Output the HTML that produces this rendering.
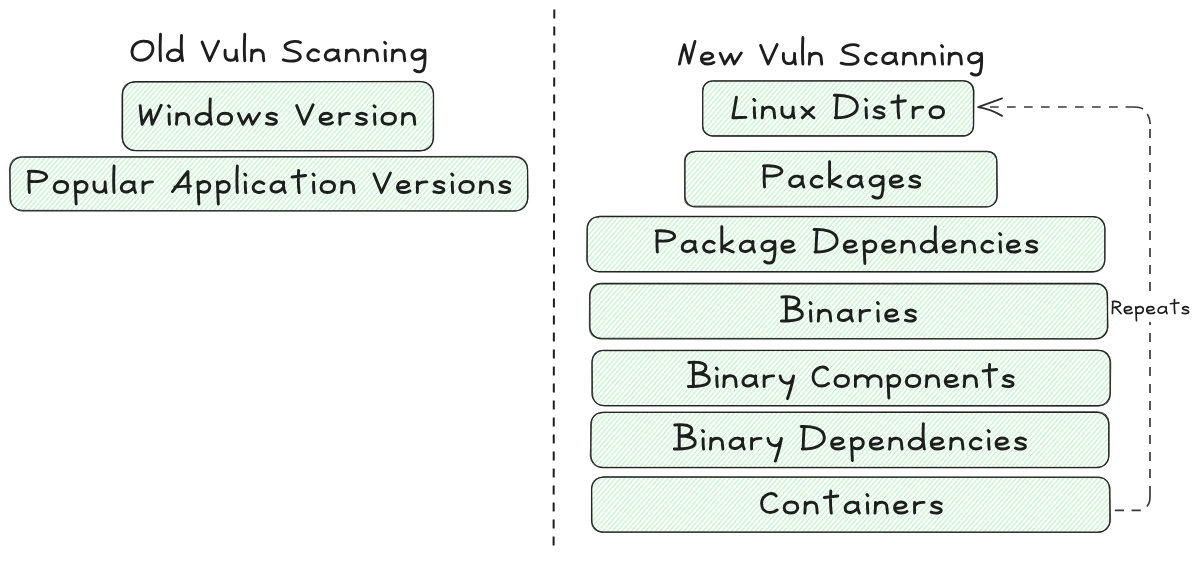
<!DOCTYPE html>
<html><head><meta charset="utf-8">
<style>
html,body{margin:0;padding:0;background:#fff;width:1200px;height:561px;overflow:hidden}
svg{display:block}
text{font-family:"Liberation Sans",sans-serif;fill:#1e1e1e}
</style></head><body>
<svg width="1200" height="561" viewBox="0 0 1200 561">
<defs>
<pattern id="h1" width="3.6" height="20" patternUnits="userSpaceOnUse" patternTransform="rotate(41)">
<rect x="0" y="0" width="1.25" height="20" fill="#c2f3c9"/>
</pattern>
<pattern id="h2" width="3.6" height="20" patternUnits="userSpaceOnUse" patternTransform="rotate(41)">
<rect x="0" y="0" width="1.25" height="20" fill="#c2f3c9"/>
</pattern>
</defs>

<rect x="122.50" y="81.70" width="311.00" height="68.90" rx="13" fill="url(#h1)" stroke="#262626" stroke-width="1.3"/>
<path d="M135.3 82.2 L419.9 81.3 Q433.9 81.9 433.5 94.9 L433.1 137.2 Q433.8 150.4 420.2 151.1 L136.1 150.6 Q122.2 150.4 121.9 137.0 L122.0 94.5 Q122.2 81.3 135.2 82.4" fill="none" stroke="#262626" stroke-width="1.0" opacity="0.75"/>
<rect x="10.00" y="156.80" width="517.60" height="54.10" rx="13" fill="url(#h1)" stroke="#262626" stroke-width="1.3"/>
<path d="M23.4 157.2 L514.1 156.3 Q528.2 156.5 527.5 170.2 L528.1 197.5 Q527.5 210.6 514.8 211.2 L22.9 210.3 Q10.6 210.3 10.6 197.5 L9.4 169.3 Q9.9 156.2 23.1 156.9" fill="none" stroke="#262626" stroke-width="1.0" opacity="0.75"/>
<rect x="702.75" y="80.90" width="270.75" height="55.10" rx="10" fill="url(#h1)" stroke="#262626" stroke-width="1.3"/>
<path d="M712.8 81.2 L962.9 80.6 Q973.4 81.0 974.0 90.3 L973.6 125.6 Q973.3 135.9 963.9 135.6 L713.4 135.8 Q702.1 135.8 702.5 125.6 L702.5 91.2 Q703.1 81.6 712.3 81.1" fill="none" stroke="#262626" stroke-width="1.0" opacity="0.75"/>
<rect x="685.00" y="151.30" width="311.90" height="55.50" rx="10" fill="url(#h1)" stroke="#262626" stroke-width="1.3"/>
<path d="M695.3 151.4 L986.8 151.8 Q997.2 151.0 996.6 160.6 L997.5 196.2 Q996.3 206.4 986.2 206.8 L694.4 206.1 Q684.3 207.2 684.5 196.9 L684.4 161.0 Q684.7 151.0 695.2 152.0" fill="none" stroke="#262626" stroke-width="1.0" opacity="0.75"/>
<rect x="587.10" y="216.70" width="517.80" height="54.90" rx="12" fill="url(#h1)" stroke="#262626" stroke-width="1.3"/>
<path d="M599.0 216.1 L1093.0 216.7 Q1105.3 216.6 1104.9 229.0 L1104.6 259.9 Q1104.9 271.9 1092.5 272.3 L599.0 272.0 Q587.5 271.0 586.7 259.3 L587.4 228.0 Q587.8 216.5 599.0 217.2" fill="none" stroke="#262626" stroke-width="1.0" opacity="0.75"/>
<rect x="589.90" y="283.50" width="517.60" height="55.30" rx="12" fill="url(#h1)" stroke="#262626" stroke-width="1.3"/>
<path d="M601.3 283.9 L1095.7 284.0 Q1107.8 283.0 1107.1 296.1 L1108.0 327.3 Q1106.8 339.3 1094.9 338.8 L601.9 338.2 Q589.2 339.2 589.3 326.8 L589.5 296.0 Q590.4 283.2 601.3 283.5" fill="none" stroke="#262626" stroke-width="1.0" opacity="0.75"/>
<rect x="592.00" y="350.30" width="518.10" height="55.30" rx="12" fill="url(#h1)" stroke="#262626" stroke-width="1.3"/>
<path d="M604.0 350.8 L1097.9 350.2 Q1110.0 349.6 1110.8 362.7 L1110.4 393.3 Q1110.7 406.0 1097.8 406.2 L604.6 405.8 Q592.1 405.5 592.6 392.9 L592.1 362.8 Q591.8 349.6 604.2 350.3" fill="none" stroke="#262626" stroke-width="1.0" opacity="0.75"/>
<rect x="590.90" y="412.30" width="517.85" height="55.30" rx="12" fill="url(#h1)" stroke="#262626" stroke-width="1.3"/>
<path d="M602.2 412.3 L1097.0 411.7 Q1109.3 411.8 1109.1 424.6 L1109.0 455.0 Q1109.1 467.5 1096.2 467.3 L603.0 467.3 Q591.3 467.4 590.2 455.9 L591.3 424.9 Q591.0 412.6 603.1 412.7" fill="none" stroke="#262626" stroke-width="1.0" opacity="0.75"/>
<rect x="591.60" y="477.10" width="518.30" height="55.10" rx="12" fill="url(#h1)" stroke="#262626" stroke-width="1.3"/>
<path d="M603.1 476.7 L1098.4 477.6 Q1109.3 477.5 1109.3 489.2 L1110.6 520.3 Q1109.6 531.6 1097.9 532.5 L603.6 532.1 Q590.9 532.2 591.9 520.7 L591.6 488.5 Q591.5 477.2 603.9 477.0" fill="none" stroke="#262626" stroke-width="1.0" opacity="0.75"/>
<line x1="554.3" y1="9.4" x2="553.6" y2="545.7" stroke="#1e1e1e" stroke-width="2" stroke-dasharray="9 8"/>
<g fill="none" stroke="#3a3a3a" stroke-width="1.7"><path d="M1114.8 510.3 H1142.9" stroke-dasharray="9.2 7.6"/><path d="M1146.8 506.5 Q1150 503.5 1150 497 V486"/><path d="M1150 478 V128" stroke-dasharray="9 8"/><path d="M979 107 H1117.8" stroke-dasharray="8.7 8.3" stroke-dashoffset="-11"/><path d="M1125.5 107 H1134 Q1140 107 1143 109"/><path d="M1147.3 114 Q1150 118 1150.2 124"/></g>
<path d="M1002.1 98.4 L978.1 107.2 Q990.1 108.9 1002.1 115.9" fill="none" stroke="#2e2e2e" stroke-width="1.8" stroke-linecap="round" stroke-linejoin="round"/>
<rect x="1109.2" y="291" width="84" height="31" fill="#fff"/>
<path transform="translate(130.00 60.70)" d="M 14.45 -19.5 C 6.45 -19.96 1.95 -14.39 1.95 -8.82 C 1.95 -3.71 5.45 -0.46 10.45 -0.46 C 17.45 -0.46 22.95 -6.04 22.95 -12.54 C 22.95 -17.18 19.45 -19.5 14.45 -19.5 M 30.51 -26.5 C 30.01 -16.17 30.01 -6.52 30.51 0 M 51.06 -7.74 C 49.06 -10.59 45.06 -11.57 41.56 -10.19 C 37.56 -8.56 36.56 -4.89 38.06 -2.44 C 39.56 0 44.06 0.5 47.06 -0.81 C 49.56 -2.04 51.06 -4.07 51.06 -5.7 M 51.56 -25.35 C 51.06 -15.02 51.06 -6.52 52.56 0 M 72.12 -18.61 L 79.62 0 L 88.62 -19.5 M 95.18 -10.59 C 94.68 -4.89 95.18 -0.81 100.18 -0.41 C 104.68 0 106.18 -3.26 106.18 -6.52 M 106.18 -10.59 C 106.18 -6.52 106.18 -3.26 107.18 0 M 114.74 -26.5 C 114.24 -16.17 114.24 -6.52 114.74 0 M 121.79 -10.59 C 121.79 -6.52 121.79 -3.26 121.29 0 M 121.79 -6.52 C 123.29 -9.78 126.29 -11 129.29 -10.59 C 132.29 -10.19 133.29 -8.15 133.29 -4.89 L 133.79 0 M 170.35 -18.26 C 167.35 -20 161.85 -19.57 158.35 -17.83 C 154.35 -16.09 153.85 -13.04 157.35 -11.3 C 160.35 -10 165.35 -9.57 168.35 -7.39 C 171.35 -5.22 170.85 -1.74 166.85 -0.43 C 162.35 0.87 157.35 0.43 153.35 -0.87 M 188.41 -8.96 C 186.41 -10.59 183.41 -11.57 180.91 -9.78 C 177.91 -8.15 176.91 -4.48 178.91 -2.04 C 180.91 0.5 185.41 0.5 188.41 -1.22 M 207.96 -8.56 C 205.96 -11 201.46 -11.57 198.46 -9.78 C 194.96 -8.15 194.46 -3.67 196.46 -1.63 C 198.96 0.5 204.96 -0.41 207.46 -4.89 M 207.96 -10.59 C 207.46 -6.52 207.96 -2.44 209.46 0 M 216.52 -10.59 C 216.52 -6.52 216.52 -3.26 216.02 0 M 216.52 -6.52 C 218.02 -9.78 221.02 -11 224.02 -10.59 C 227.02 -10.19 228.02 -8.15 228.02 -4.89 L 228.52 0 M 235.58 -10.59 C 235.58 -6.52 235.58 -3.26 235.08 0 M 235.58 -6.52 C 237.08 -9.78 240.08 -11 243.08 -10.59 C 246.08 -10.19 247.08 -8.15 247.08 -4.89 L 247.58 0 M 255.14 -10.19 C 255.14 -6.52 255.14 -3.26 255.64 0 M 254.64 -18.46 L 255.64 -17.31 M 262.69 -10.59 C 262.69 -6.52 262.69 -3.26 262.19 0 M 262.69 -6.52 C 264.19 -9.78 267.19 -11 270.19 -10.59 C 273.19 -10.19 274.19 -8.15 274.19 -4.89 L 274.69 0 M 294.25 -8.56 C 292.25 -11 288.25 -11.57 284.75 -9.78 C 281.25 -8.15 281.25 -3.26 283.75 -2.04 C 286.75 -0.41 292.25 -1.63 294.25 -5.7 M 294.75 -10.59 C 295.25 -4.07 295.25 3 293.75 8 C 292.75 11.5 288.25 12 284.75 9.5" fill="none" stroke="#1e1e1e" stroke-width="2.9" stroke-linecap="round" stroke-linejoin="round"/>
<path transform="translate(138.75 124.20)" d="M 1.45 -18.56 C 1.95 -12.37 2.45 -6.19 3.45 0 L 11.45 -14.14 L 13.45 0 C 16.95 -6.19 19.45 -12.37 22.45 -19 M 30.3 -10.19 C 30.3 -6.52 30.3 -3.26 30.8 0 M 29.8 -18.46 L 30.8 -17.31 M 38.16 -10.59 C 38.16 -6.52 38.16 -3.26 37.66 0 M 38.16 -6.52 C 39.66 -9.78 42.66 -11 45.66 -10.59 C 48.66 -10.19 49.66 -8.15 49.66 -4.89 L 50.16 0 M 71.01 -7.74 C 69.01 -10.59 65.01 -11.57 61.51 -10.19 C 57.51 -8.56 56.51 -4.89 58.01 -2.44 C 59.51 0 64.01 0.5 67.01 -0.81 C 69.51 -2.04 71.01 -4.07 71.01 -5.7 M 71.51 -25.35 C 71.01 -15.02 71.01 -6.52 72.51 0 M 86.37 -11 C 81.37 -11 79.37 -8.15 79.37 -5.3 C 79.37 -2.04 81.87 0 85.87 0 C 90.37 0 92.87 -2.44 92.87 -5.7 C 92.87 -8.96 90.37 -11 86.37 -11 M 99.72 -10.59 L 104.22 0 L 110.22 -9.78 L 113.72 0 L 120.72 -11 M 137.57 -9.37 C 135.07 -11 131.57 -11.57 129.07 -9.78 C 127.07 -8.15 129.07 -6.52 132.07 -5.7 C 135.57 -4.89 138.07 -4.07 137.57 -2.04 C 137.07 0 132.57 1 127.57 -0.81 M 157.93 -18.61 L 165.43 0 L 174.43 -19.5 M 181.78 -4.89 C 185.28 -4.48 189.78 -4.89 192.28 -6.93 C 193.28 -8.96 191.28 -11 187.78 -11 C 183.28 -11 181.28 -8.15 181.28 -5.3 C 181.28 -1.63 184.28 0 187.78 0 C 190.28 0 192.28 -0.41 193.78 -1.63 M 201.13 -10.59 C 201.13 -6.52 201.13 -3.26 201.13 0 M 201.13 -6.93 C 202.63 -9.37 205.63 -11 210.63 -10.59 M 227.49 -9.37 C 224.99 -11 221.49 -11.57 218.99 -9.78 C 216.99 -8.15 218.99 -6.52 221.99 -5.7 C 225.49 -4.89 227.99 -4.07 227.49 -2.04 C 226.99 0 222.49 1 217.49 -0.81 M 235.84 -10.19 C 235.84 -6.52 235.84 -3.26 236.34 0 M 235.34 -18.46 L 236.34 -17.31 M 250.2 -11 C 245.2 -11 243.2 -8.15 243.2 -5.3 C 243.2 -2.04 245.7 0 249.7 0 C 254.2 0 256.7 -2.44 256.7 -5.7 C 256.7 -8.96 254.2 -11 250.2 -11 M 264.05 -10.59 C 264.05 -6.52 264.05 -3.26 263.55 0 M 264.05 -6.52 C 265.55 -9.78 268.55 -11 271.55 -10.59 C 274.55 -10.19 275.55 -8.15 275.55 -4.89 L 276.05 0" fill="none" stroke="#1e1e1e" stroke-width="2.9" stroke-linecap="round" stroke-linejoin="round"/>
<path transform="translate(26.80 192.50)" d="M 2.57 -20.53 C 2.01 -13.07 2.01 -6.53 2.57 0 M 1.45 -21 C 7.04 -21.47 13.74 -21 18.21 -18.67 C 21.57 -15.87 19.33 -12.6 14.86 -11.67 C 10.39 -10.73 5.92 -10.73 3.13 -11.2 M 34.41 -11 C 29.41 -11 27.41 -8.15 27.41 -5.3 C 27.41 -2.04 29.91 0 33.91 0 C 38.41 0 40.91 -2.44 40.91 -5.7 C 40.91 -8.96 38.41 -11 34.41 -11 M 48.36 -10.59 C 48.86 -3.26 48.86 4 49.36 11.5 M 48.86 -7.74 C 50.86 -10.19 53.86 -11.57 56.86 -10.59 C 59.86 -9.78 60.86 -6.93 59.86 -4.07 C 58.86 -1.22 55.86 0 52.86 -0.41 C 50.86 -0.81 49.86 -1.22 48.86 -2.04 M 67.32 -10.59 C 66.82 -4.89 67.32 -0.81 72.32 -0.41 C 76.82 0 78.32 -3.26 78.32 -6.52 M 78.32 -10.59 C 78.32 -6.52 78.32 -3.26 79.32 0 M 87.27 -26.5 C 86.77 -16.17 86.77 -6.52 87.27 0 M 107.23 -8.56 C 105.23 -11 100.73 -11.57 97.73 -9.78 C 94.23 -8.15 93.73 -3.67 95.73 -1.63 C 98.23 0.5 104.23 -0.41 106.73 -4.89 M 107.23 -10.59 C 106.73 -6.52 107.23 -2.44 108.73 0 M 116.19 -10.59 C 116.19 -6.52 116.19 -3.26 116.19 0 M 116.19 -6.93 C 117.69 -9.37 120.69 -11 125.69 -10.59 M 145.64 -0.91 C 150.64 -7.3 155.64 -14.61 161.14 -21 C 161.14 -13.7 161.14 -6.39 161.64 0 M 148.14 -5.48 C 153.14 -5.93 158.64 -6.39 163.64 -6.39 M 171.1 -10.59 C 171.6 -3.26 171.6 4 172.1 11.5 M 171.6 -7.74 C 173.6 -10.19 176.6 -11.57 179.6 -10.59 C 182.6 -9.78 183.6 -6.93 182.6 -4.07 C 181.6 -1.22 178.6 0 175.6 -0.41 C 173.6 -0.81 172.6 -1.22 171.6 -2.04 M 190.55 -10.59 C 191.05 -3.26 191.05 4 191.55 11.5 M 191.05 -7.74 C 193.05 -10.19 196.05 -11.57 199.05 -10.59 C 202.05 -9.78 203.05 -6.93 202.05 -4.07 C 201.05 -1.22 198.05 0 195.05 -0.41 C 193.05 -0.81 192.05 -1.22 191.05 -2.04 M 210.51 -26.5 C 210.01 -16.17 210.01 -6.52 210.51 0 M 218.47 -10.19 C 218.47 -6.52 218.47 -3.26 218.97 0 M 217.97 -18.46 L 218.97 -17.31 M 236.92 -8.96 C 234.92 -10.59 231.92 -11.57 229.42 -9.78 C 226.42 -8.15 225.42 -4.48 227.42 -2.04 C 229.42 0.5 233.92 0.5 236.92 -1.22 M 256.88 -8.56 C 254.88 -11 250.38 -11.57 247.38 -9.78 C 243.88 -8.15 243.38 -3.67 245.38 -1.63 C 247.88 0.5 253.88 -0.41 256.38 -4.89 M 256.88 -10.59 C 256.38 -6.52 256.88 -2.44 258.38 0 M 271.83 -22 C 271.33 -14 271.33 -7 272.33 0 M 265.33 -15.5 C 269.83 -16 274.33 -16.5 278.83 -17 M 286.79 -10.19 C 286.79 -6.52 286.79 -3.26 287.29 0 M 286.29 -18.46 L 287.29 -17.31 M 301.25 -11 C 296.25 -11 294.25 -8.15 294.25 -5.3 C 294.25 -2.04 296.75 0 300.75 0 C 305.25 0 307.75 -2.44 307.75 -5.7 C 307.75 -8.96 305.25 -11 301.25 -11 M 315.2 -10.59 C 315.2 -6.52 315.2 -3.26 314.7 0 M 315.2 -6.52 C 316.7 -9.78 319.7 -11 322.7 -10.59 C 325.7 -10.19 326.7 -8.15 326.7 -4.89 L 327.2 0 M 347.16 -18.61 L 354.66 0 L 363.66 -19.5 M 371.11 -4.89 C 374.61 -4.48 379.11 -4.89 381.61 -6.93 C 382.61 -8.96 380.61 -11 377.11 -11 C 372.61 -11 370.61 -8.15 370.61 -5.3 C 370.61 -1.63 373.61 0 377.11 0 C 379.61 0 381.61 -0.41 383.11 -1.63 M 390.57 -10.59 C 390.57 -6.52 390.57 -3.26 390.57 0 M 390.57 -6.93 C 392.07 -9.37 395.07 -11 400.07 -10.59 M 417.03 -9.37 C 414.53 -11 411.03 -11.57 408.53 -9.78 C 406.53 -8.15 408.53 -6.52 411.53 -5.7 C 415.03 -4.89 417.53 -4.07 417.03 -2.04 C 416.53 0 412.03 1 407.03 -0.81 M 425.48 -10.19 C 425.48 -6.52 425.48 -3.26 425.98 0 M 424.98 -18.46 L 425.98 -17.31 M 439.94 -11 C 434.94 -11 432.94 -8.15 432.94 -5.3 C 432.94 -2.04 435.44 0 439.44 0 C 443.94 0 446.44 -2.44 446.44 -5.7 C 446.44 -8.96 443.94 -11 439.94 -11 M 453.89 -10.59 C 453.89 -6.52 453.89 -3.26 453.39 0 M 453.89 -6.52 C 455.39 -9.78 458.39 -11 461.39 -10.59 C 464.39 -10.19 465.39 -8.15 465.39 -4.89 L 465.89 0 M 482.85 -9.37 C 480.35 -11 476.85 -11.57 474.35 -9.78 C 472.35 -8.15 474.35 -6.52 477.35 -5.7 C 480.85 -4.89 483.35 -4.07 482.85 -2.04 C 482.35 0 477.85 1 472.85 -0.81" fill="none" stroke="#1e1e1e" stroke-width="2.9" stroke-linecap="round" stroke-linejoin="round"/>
<path transform="translate(678.00 64.00)" d="M 1.45 0 C 2.95 -6.56 4.45 -14.06 6.45 -19.22 L 10.95 -0.94 C 12.95 -7.5 14.95 -15 16.95 -22.5 M 23.84 -4.89 C 27.34 -4.48 31.84 -4.89 34.34 -6.93 C 35.34 -8.96 33.34 -11 29.84 -11 C 25.34 -11 23.34 -8.15 23.34 -5.3 C 23.34 -1.63 26.34 0 29.84 0 C 32.34 0 34.34 -0.41 35.84 -1.63 M 42.22 -10.59 L 46.72 0 L 52.72 -9.78 L 56.22 0 L 63.22 -11 M 82.61 -18.61 L 90.11 0 L 99.11 -19.5 M 105.49 -10.59 C 104.99 -4.89 105.49 -0.81 110.49 -0.41 C 114.99 0 116.49 -3.26 116.49 -6.52 M 116.49 -10.59 C 116.49 -6.52 116.49 -3.26 117.49 0 M 124.88 -26.5 C 124.38 -16.17 124.38 -6.52 124.88 0 M 131.76 -10.59 C 131.76 -6.52 131.76 -3.26 131.26 0 M 131.76 -6.52 C 133.26 -9.78 136.26 -11 139.26 -10.59 C 142.26 -10.19 143.26 -8.15 143.26 -4.89 L 143.76 0 M 180.15 -18.26 C 177.15 -20 171.65 -19.57 168.15 -17.83 C 164.15 -16.09 163.65 -13.04 167.15 -11.3 C 170.15 -10 175.15 -9.57 178.15 -7.39 C 181.15 -5.22 180.65 -1.74 176.65 -0.43 C 172.15 0.87 167.15 0.43 163.15 -0.87 M 198.04 -8.96 C 196.04 -10.59 193.04 -11.57 190.54 -9.78 C 187.54 -8.15 186.54 -4.48 188.54 -2.04 C 190.54 0.5 195.04 0.5 198.04 -1.22 M 217.42 -8.56 C 215.42 -11 210.92 -11.57 207.92 -9.78 C 204.42 -8.15 203.92 -3.67 205.92 -1.63 C 208.42 0.5 214.42 -0.41 216.92 -4.89 M 217.42 -10.59 C 216.92 -6.52 217.42 -2.44 218.92 0 M 225.81 -10.59 C 225.81 -6.52 225.81 -3.26 225.31 0 M 225.81 -6.52 C 227.31 -9.78 230.31 -11 233.31 -10.59 C 236.31 -10.19 237.31 -8.15 237.31 -4.89 L 237.81 0 M 244.69 -10.59 C 244.69 -6.52 244.69 -3.26 244.19 0 M 244.69 -6.52 C 246.19 -9.78 249.19 -11 252.19 -10.59 C 255.19 -10.19 256.19 -8.15 256.19 -4.89 L 256.69 0 M 264.08 -10.19 C 264.08 -6.52 264.08 -3.26 264.58 0 M 263.58 -18.46 L 264.58 -17.31 M 271.46 -10.59 C 271.46 -6.52 271.46 -3.26 270.96 0 M 271.46 -6.52 C 272.96 -9.78 275.96 -11 278.96 -10.59 C 281.96 -10.19 282.96 -8.15 282.96 -4.89 L 283.46 0 M 302.85 -8.56 C 300.85 -11 296.85 -11.57 293.35 -9.78 C 289.85 -8.15 289.85 -3.26 292.35 -2.04 C 295.35 -0.41 300.85 -1.63 302.85 -5.7 M 303.35 -10.59 C 303.85 -4.07 303.85 3 302.35 8 C 301.35 11.5 296.85 12 293.35 9.5" fill="none" stroke="#1e1e1e" stroke-width="2.9" stroke-linecap="round" stroke-linejoin="round"/>
<path transform="translate(731.00 117.80)" d="M 5.45 -20.5 C 4.45 -13.98 2.95 -6.52 1.95 0 C 6.45 0 10.45 -0.47 14.95 -0.47 M 23.31 -10.19 C 23.31 -6.52 23.31 -3.26 23.81 0 M 22.81 -18.46 L 23.81 -17.31 M 31.67 -10.59 C 31.67 -6.52 31.67 -3.26 31.17 0 M 31.67 -6.52 C 33.17 -9.78 36.17 -11 39.17 -10.59 C 42.17 -10.19 43.17 -8.15 43.17 -4.89 L 43.67 0 M 51.03 -10.59 C 50.53 -4.89 51.03 -0.81 56.03 -0.41 C 60.53 0 62.03 -3.26 62.03 -6.52 M 62.03 -10.59 C 62.03 -6.52 62.03 -3.26 63.03 0 M 70.89 -10.59 C 74.39 -7.33 78.39 -3.26 82.89 0 M 82.39 -10.59 C 78.89 -7.33 74.89 -3.67 71.39 0 M 106.25 -22 C 105.75 -15 105.25 -7 105.25 0 M 103.25 -22.5 C 113.25 -23 125.25 -21 126.25 -12.5 C 127.25 -4 117.25 0 104.25 0 M 135.11 -10.19 C 135.11 -6.52 135.11 -3.26 135.61 0 M 134.61 -18.46 L 135.61 -17.31 M 152.97 -9.37 C 150.47 -11 146.97 -11.57 144.47 -9.78 C 142.47 -8.15 144.47 -6.52 147.47 -5.7 C 150.97 -4.89 153.47 -4.07 152.97 -2.04 C 152.47 0 147.97 1 142.97 -0.81 M 167.33 -22 C 166.83 -14 166.83 -7 167.83 0 M 160.83 -15.5 C 165.33 -16 169.83 -16.5 174.33 -17 M 182.19 -10.59 C 182.19 -6.52 182.19 -3.26 182.19 0 M 182.19 -6.93 C 183.69 -9.37 186.69 -11 191.69 -10.59 M 206.05 -11 C 201.05 -11 199.05 -8.15 199.05 -5.3 C 199.05 -2.04 201.55 0 205.55 0 C 210.05 0 212.55 -2.44 212.55 -5.7 C 212.55 -8.96 210.05 -11 206.05 -11" fill="none" stroke="#1e1e1e" stroke-width="2.9" stroke-linecap="round" stroke-linejoin="round"/>
<path transform="translate(762.00 187.00)" d="M 2.57 -20.53 C 2.01 -13.07 2.01 -6.53 2.57 0 M 1.45 -21 C 7.04 -21.47 13.74 -21 18.21 -18.67 C 21.57 -15.87 19.33 -12.6 14.86 -11.67 C 10.39 -10.73 5.92 -10.73 3.13 -11.2 M 40.34 -8.56 C 38.34 -11 33.84 -11.57 30.84 -9.78 C 27.34 -8.15 26.84 -3.67 28.84 -1.63 C 31.34 0.5 37.34 -0.41 39.84 -4.89 M 40.34 -10.59 C 39.84 -6.52 40.34 -2.44 41.84 0 M 59.72 -8.96 C 57.72 -10.59 54.72 -11.57 52.22 -9.78 C 49.22 -8.15 48.22 -4.48 50.22 -2.04 C 52.22 0.5 56.72 0.5 59.72 -1.22 M 67.61 -25.35 C 67.61 -15.02 67.61 -6.52 67.61 0 M 78.11 -11 C 75.11 -8.96 71.61 -6.93 68.11 -4.48 C 71.61 -3.26 75.11 -1.63 79.11 0 M 98.99 -8.56 C 96.99 -11 92.49 -11.57 89.49 -9.78 C 85.99 -8.15 85.49 -3.67 87.49 -1.63 C 89.99 0.5 95.99 -0.41 98.49 -4.89 M 98.99 -10.59 C 98.49 -6.52 98.99 -2.44 100.49 0 M 120.38 -8.56 C 118.38 -11 114.38 -11.57 110.88 -9.78 C 107.38 -8.15 107.38 -3.26 109.88 -2.04 C 112.88 -0.41 118.38 -1.63 120.38 -5.7 M 120.88 -10.59 C 121.38 -4.07 121.38 3 119.88 8 C 118.88 11.5 114.38 12 110.88 9.5 M 128.76 -4.89 C 132.26 -4.48 136.76 -4.89 139.26 -6.93 C 140.26 -8.96 138.26 -11 134.76 -11 C 130.26 -11 128.26 -8.15 128.26 -5.3 C 128.26 -1.63 131.26 0 134.76 0 C 137.26 0 139.26 -0.41 140.76 -1.63 M 157.65 -9.37 C 155.15 -11 151.65 -11.57 149.15 -9.78 C 147.15 -8.15 149.15 -6.52 152.15 -5.7 C 155.65 -4.89 158.15 -4.07 157.65 -2.04 C 157.15 0 152.65 1 147.65 -0.81" fill="none" stroke="#1e1e1e" stroke-width="2.9" stroke-linecap="round" stroke-linejoin="round"/>
<path transform="translate(654.80 252.00)" d="M 2.57 -20.53 C 2.01 -13.07 2.01 -6.53 2.57 0 M 1.45 -21 C 7.04 -21.47 13.74 -21 18.21 -18.67 C 21.57 -15.87 19.33 -12.6 14.86 -11.67 C 10.39 -10.73 5.92 -10.73 3.13 -11.2 M 40.13 -8.56 C 38.13 -11 33.63 -11.57 30.63 -9.78 C 27.13 -8.15 26.63 -3.67 28.63 -1.63 C 31.13 0.5 37.13 -0.41 39.63 -4.89 M 40.13 -10.59 C 39.63 -6.52 40.13 -2.44 41.63 0 M 59.32 -8.96 C 57.32 -10.59 54.32 -11.57 51.82 -9.78 C 48.82 -8.15 47.82 -4.48 49.82 -2.04 C 51.82 0.5 56.32 0.5 59.32 -1.22 M 67 -25.35 C 67 -15.02 67 -6.52 67 0 M 77.5 -11 C 74.5 -8.96 71 -6.93 67.5 -4.48 C 71 -3.26 74.5 -1.63 78.5 0 M 98.18 -8.56 C 96.18 -11 91.68 -11.57 88.68 -9.78 C 85.18 -8.15 84.68 -3.67 86.68 -1.63 C 89.18 0.5 95.18 -0.41 97.68 -4.89 M 98.18 -10.59 C 97.68 -6.52 98.18 -2.44 99.68 0 M 119.37 -8.56 C 117.37 -11 113.37 -11.57 109.87 -9.78 C 106.37 -8.15 106.37 -3.26 108.87 -2.04 C 111.87 -0.41 117.37 -1.63 119.37 -5.7 M 119.87 -10.59 C 120.37 -4.07 120.37 3 118.87 8 C 117.87 11.5 113.37 12 109.87 9.5 M 127.55 -4.89 C 131.05 -4.48 135.55 -4.89 138.05 -6.93 C 139.05 -8.96 137.05 -11 133.55 -11 C 129.05 -11 127.05 -8.15 127.05 -5.3 C 127.05 -1.63 130.05 0 133.55 0 C 136.05 0 138.05 -0.41 139.55 -1.63 M 162.23 -22 C 161.73 -15 161.23 -7 161.23 0 M 159.23 -22.5 C 169.23 -23 181.23 -21 182.23 -12.5 C 183.23 -4 173.23 0 160.23 0 M 189.92 -4.89 C 193.42 -4.48 197.92 -4.89 200.42 -6.93 C 201.42 -8.96 199.42 -11 195.92 -11 C 191.42 -11 189.42 -8.15 189.42 -5.3 C 189.42 -1.63 192.42 0 195.92 0 C 198.42 0 200.42 -0.41 201.92 -1.63 M 209.1 -10.59 C 209.6 -3.26 209.6 4 210.1 11.5 M 209.6 -7.74 C 211.6 -10.19 214.6 -11.57 217.6 -10.59 C 220.6 -9.78 221.6 -6.93 220.6 -4.07 C 219.6 -1.22 216.6 0 213.6 -0.41 C 211.6 -0.81 210.6 -1.22 209.6 -2.04 M 228.28 -4.89 C 231.78 -4.48 236.28 -4.89 238.78 -6.93 C 239.78 -8.96 237.78 -11 234.28 -11 C 229.78 -11 227.78 -8.15 227.78 -5.3 C 227.78 -1.63 230.78 0 234.28 0 C 236.78 0 238.78 -0.41 240.28 -1.63 M 247.47 -10.59 C 247.47 -6.52 247.47 -3.26 246.97 0 M 247.47 -6.52 C 248.97 -9.78 251.97 -11 254.97 -10.59 C 257.97 -10.19 258.97 -8.15 258.97 -4.89 L 259.47 0 M 280.15 -7.74 C 278.15 -10.59 274.15 -11.57 270.65 -10.19 C 266.65 -8.56 265.65 -4.89 267.15 -2.44 C 268.65 0 273.15 0.5 276.15 -0.81 C 278.65 -2.04 280.15 -4.07 280.15 -5.7 M 280.65 -25.35 C 280.15 -15.02 280.15 -6.52 281.65 0 M 288.83 -4.89 C 292.33 -4.48 296.83 -4.89 299.33 -6.93 C 300.33 -8.96 298.33 -11 294.83 -11 C 290.33 -11 288.33 -8.15 288.33 -5.3 C 288.33 -1.63 291.33 0 294.83 0 C 297.33 0 299.33 -0.41 300.83 -1.63 M 308.02 -10.59 C 308.02 -6.52 308.02 -3.26 307.52 0 M 308.02 -6.52 C 309.52 -9.78 312.52 -11 315.52 -10.59 C 318.52 -10.19 319.52 -8.15 319.52 -4.89 L 320.02 0 M 337.7 -8.96 C 335.7 -10.59 332.7 -11.57 330.2 -9.78 C 327.2 -8.15 326.2 -4.48 328.2 -2.04 C 330.2 0.5 334.7 0.5 337.7 -1.22 M 345.38 -10.19 C 345.38 -6.52 345.38 -3.26 345.88 0 M 344.88 -18.46 L 345.88 -17.31 M 353.07 -4.89 C 356.57 -4.48 361.07 -4.89 363.57 -6.93 C 364.57 -8.96 362.57 -11 359.07 -11 C 354.57 -11 352.57 -8.15 352.57 -5.3 C 352.57 -1.63 355.57 0 359.07 0 C 361.57 0 363.57 -0.41 365.07 -1.63 M 381.75 -9.37 C 379.25 -11 375.75 -11.57 373.25 -9.78 C 371.25 -8.15 373.25 -6.52 376.25 -5.7 C 379.75 -4.89 382.25 -4.07 381.75 -2.04 C 381.25 0 376.75 1 371.75 -0.81" fill="none" stroke="#1e1e1e" stroke-width="2.9" stroke-linecap="round" stroke-linejoin="round"/>
<path transform="translate(780.40 321.00)" d="M 5.95 -24 C 5.95 -16 5.95 -8 5.95 0 M 1.45 -24 C 9.45 -25 18.45 -24 18.45 -19 C 18.45 -14.5 12.45 -13 6.45 -13 C 13.45 -13 21.95 -11.5 21.95 -6.5 C 21.95 -1 12.45 0 0.95 0 M 30.16 -10.19 C 30.16 -6.52 30.16 -3.26 30.66 0 M 29.66 -18.46 L 30.66 -17.31 M 38.38 -10.59 C 38.38 -6.52 38.38 -3.26 37.88 0 M 38.38 -6.52 C 39.88 -9.78 42.88 -11 45.88 -10.59 C 48.88 -10.19 49.88 -8.15 49.88 -4.89 L 50.38 0 M 70.59 -8.56 C 68.59 -11 64.09 -11.57 61.09 -9.78 C 57.59 -8.15 57.09 -3.67 59.09 -1.63 C 61.59 0.5 67.59 -0.41 70.09 -4.89 M 70.59 -10.59 C 70.09 -6.52 70.59 -2.44 72.09 0 M 79.81 -10.59 C 79.81 -6.52 79.81 -3.26 79.81 0 M 79.81 -6.93 C 81.31 -9.37 84.31 -11 89.31 -10.59 M 97.52 -10.19 C 97.52 -6.52 97.52 -3.26 98.02 0 M 97.02 -18.46 L 98.02 -17.31 M 105.74 -4.89 C 109.24 -4.48 113.74 -4.89 116.24 -6.93 C 117.24 -8.96 115.24 -11 111.74 -11 C 107.24 -11 105.24 -8.15 105.24 -5.3 C 105.24 -1.63 108.24 0 111.74 0 C 114.24 0 116.24 -0.41 117.74 -1.63 M 134.95 -9.37 C 132.45 -11 128.95 -11.57 126.45 -9.78 C 124.45 -8.15 126.45 -6.52 129.45 -5.7 C 132.95 -4.89 135.45 -4.07 134.95 -2.04 C 134.45 0 129.95 1 124.95 -0.81" fill="none" stroke="#1e1e1e" stroke-width="2.9" stroke-linecap="round" stroke-linejoin="round"/>
<path transform="translate(687.40 386.50)" d="M 5.95 -24 C 5.95 -16 5.95 -8 5.95 0 M 1.45 -24 C 9.45 -25 18.45 -24 18.45 -19 C 18.45 -14.5 12.45 -13 6.45 -13 C 13.45 -13 21.95 -11.5 21.95 -6.5 C 21.95 -1 12.45 0 0.95 0 M 29.4 -10.19 C 29.4 -6.52 29.4 -3.26 29.9 0 M 28.9 -18.46 L 29.9 -17.31 M 36.84 -10.59 C 36.84 -6.52 36.84 -3.26 36.34 0 M 36.84 -6.52 C 38.34 -9.78 41.34 -11 44.34 -10.59 C 47.34 -10.19 48.34 -8.15 48.34 -4.89 L 48.84 0 M 68.29 -8.56 C 66.29 -11 61.79 -11.57 58.79 -9.78 C 55.29 -8.15 54.79 -3.67 56.79 -1.63 C 59.29 0.5 65.29 -0.41 67.79 -4.89 M 68.29 -10.59 C 67.79 -6.52 68.29 -2.44 69.79 0 M 76.74 -10.59 C 76.74 -6.52 76.74 -3.26 76.74 0 M 76.74 -6.93 C 78.24 -9.37 81.24 -11 86.24 -10.59 M 92.68 -10.59 C 93.18 -6.52 95.18 -3.67 99.68 -3.26 C 103.18 -3.26 105.18 -6.11 106.18 -10.59 C 105.18 -4.07 103.18 3 100.18 12 M 140.13 -16.96 C 138.63 -19.13 135.63 -20 132.63 -19.13 C 128.13 -17.39 125.63 -13.48 125.63 -9.57 C 125.63 -3.91 129.13 -0.43 134.13 -0.43 C 136.63 -0.43 139.13 -1.3 141.13 -3.04 M 154.58 -11 C 149.58 -11 147.58 -8.15 147.58 -5.3 C 147.58 -2.04 150.08 0 154.08 0 C 158.58 0 161.08 -2.44 161.08 -5.7 C 161.08 -8.96 158.58 -11 154.58 -11 M 168.02 -10.59 C 168.02 -6.93 168.02 -3.26 168.02 0 M 168.02 -6.52 C 170.02 -9.78 173.02 -11 176.02 -10.59 C 179.52 -10.19 180.52 -8.15 180.52 -4.89 L 180.52 0 M 180.52 -6.11 C 182.52 -9.78 185.52 -11 188.52 -10.59 C 192.52 -10.19 193.52 -8.15 193.52 -4.89 L 193.52 0 M 200.47 -10.59 C 200.97 -3.26 200.97 4 201.47 11.5 M 200.97 -7.74 C 202.97 -10.19 205.97 -11.57 208.97 -10.59 C 211.97 -9.78 212.97 -6.93 211.97 -4.07 C 210.97 -1.22 207.97 0 204.97 -0.41 C 202.97 -0.81 201.97 -1.22 200.97 -2.04 M 225.92 -11 C 220.92 -11 218.92 -8.15 218.92 -5.3 C 218.92 -2.04 221.42 0 225.42 0 C 229.92 0 232.42 -2.44 232.42 -5.7 C 232.42 -8.96 229.92 -11 225.92 -11 M 239.36 -10.59 C 239.36 -6.52 239.36 -3.26 238.86 0 M 239.36 -6.52 C 240.86 -9.78 243.86 -11 246.86 -10.59 C 249.86 -10.19 250.86 -8.15 250.86 -4.89 L 251.36 0 M 258.31 -4.89 C 261.81 -4.48 266.31 -4.89 268.81 -6.93 C 269.81 -8.96 267.81 -11 264.31 -11 C 259.81 -11 257.81 -8.15 257.81 -5.3 C 257.81 -1.63 260.81 0 264.31 0 C 266.81 0 268.81 -0.41 270.31 -1.63 M 277.26 -10.59 C 277.26 -6.52 277.26 -3.26 276.76 0 M 277.26 -6.52 C 278.76 -9.78 281.76 -11 284.76 -10.59 C 287.76 -10.19 288.76 -8.15 288.76 -4.89 L 289.26 0 M 302.2 -22 C 301.7 -14 301.7 -7 302.7 0 M 295.7 -15.5 C 300.2 -16 304.7 -16.5 309.2 -17 M 325.65 -9.37 C 323.15 -11 319.65 -11.57 317.15 -9.78 C 315.15 -8.15 317.15 -6.52 320.15 -5.7 C 323.65 -4.89 326.15 -4.07 325.65 -2.04 C 325.15 0 320.65 1 315.65 -0.81" fill="none" stroke="#1e1e1e" stroke-width="2.9" stroke-linecap="round" stroke-linejoin="round"/>
<path transform="translate(673.30 449.00)" d="M 5.95 -24 C 5.95 -16 5.95 -8 5.95 0 M 1.45 -24 C 9.45 -25 18.45 -24 18.45 -19 C 18.45 -14.5 12.45 -13 6.45 -13 C 13.45 -13 21.95 -11.5 21.95 -6.5 C 21.95 -1 12.45 0 0.95 0 M 29.78 -10.19 C 29.78 -6.52 29.78 -3.26 30.28 0 M 29.28 -18.46 L 30.28 -17.31 M 37.61 -10.59 C 37.61 -6.52 37.61 -3.26 37.11 0 M 37.61 -6.52 C 39.11 -9.78 42.11 -11 45.11 -10.59 C 48.11 -10.19 49.11 -8.15 49.11 -4.89 L 49.61 0 M 69.44 -8.56 C 67.44 -11 62.94 -11.57 59.94 -9.78 C 56.44 -8.15 55.94 -3.67 57.94 -1.63 C 60.44 0.5 66.44 -0.41 68.94 -4.89 M 69.44 -10.59 C 68.94 -6.52 69.44 -2.44 70.94 0 M 78.27 -10.59 C 78.27 -6.52 78.27 -3.26 78.27 0 M 78.27 -6.93 C 79.77 -9.37 82.77 -11 87.77 -10.59 M 94.6 -10.59 C 95.1 -6.52 97.1 -3.67 101.6 -3.26 C 105.1 -3.26 107.1 -6.11 108.1 -10.59 C 107.1 -4.07 105.1 3 102.1 12 M 130.93 -22 C 130.43 -15 129.93 -7 129.93 0 M 127.93 -22.5 C 137.93 -23 149.93 -21 150.93 -12.5 C 151.93 -4 141.93 0 128.93 0 M 158.76 -4.89 C 162.26 -4.48 166.76 -4.89 169.26 -6.93 C 170.26 -8.96 168.26 -11 164.76 -11 C 160.26 -11 158.26 -8.15 158.26 -5.3 C 158.26 -1.63 161.26 0 164.76 0 C 167.26 0 169.26 -0.41 170.76 -1.63 M 178.09 -10.59 C 178.59 -3.26 178.59 4 179.09 11.5 M 178.59 -7.74 C 180.59 -10.19 183.59 -11.57 186.59 -10.59 C 189.59 -9.78 190.59 -6.93 189.59 -4.07 C 188.59 -1.22 185.59 0 182.59 -0.41 C 180.59 -0.81 179.59 -1.22 178.59 -2.04 M 197.41 -4.89 C 200.91 -4.48 205.41 -4.89 207.91 -6.93 C 208.91 -8.96 206.91 -11 203.41 -11 C 198.91 -11 196.91 -8.15 196.91 -5.3 C 196.91 -1.63 199.91 0 203.41 0 C 205.91 0 207.91 -0.41 209.41 -1.63 M 216.74 -10.59 C 216.74 -6.52 216.74 -3.26 216.24 0 M 216.74 -6.52 C 218.24 -9.78 221.24 -11 224.24 -10.59 C 227.24 -10.19 228.24 -8.15 228.24 -4.89 L 228.74 0 M 249.57 -7.74 C 247.57 -10.59 243.57 -11.57 240.07 -10.19 C 236.07 -8.56 235.07 -4.89 236.57 -2.44 C 238.07 0 242.57 0.5 245.57 -0.81 C 248.07 -2.04 249.57 -4.07 249.57 -5.7 M 250.07 -25.35 C 249.57 -15.02 249.57 -6.52 251.07 0 M 258.4 -4.89 C 261.9 -4.48 266.4 -4.89 268.9 -6.93 C 269.9 -8.96 267.9 -11 264.4 -11 C 259.9 -11 257.9 -8.15 257.9 -5.3 C 257.9 -1.63 260.9 0 264.4 0 C 266.9 0 268.9 -0.41 270.4 -1.63 M 277.73 -10.59 C 277.73 -6.52 277.73 -3.26 277.23 0 M 277.73 -6.52 C 279.23 -9.78 282.23 -11 285.23 -10.59 C 288.23 -10.19 289.23 -8.15 289.23 -4.89 L 289.73 0 M 307.56 -8.96 C 305.56 -10.59 302.56 -11.57 300.06 -9.78 C 297.06 -8.15 296.06 -4.48 298.06 -2.04 C 300.06 0.5 304.56 0.5 307.56 -1.22 M 315.39 -10.19 C 315.39 -6.52 315.39 -3.26 315.89 0 M 314.89 -18.46 L 315.89 -17.31 M 323.22 -4.89 C 326.72 -4.48 331.22 -4.89 333.72 -6.93 C 334.72 -8.96 332.72 -11 329.22 -11 C 324.72 -11 322.72 -8.15 322.72 -5.3 C 322.72 -1.63 325.72 0 329.22 0 C 331.72 0 333.72 -0.41 335.22 -1.63 M 352.05 -9.37 C 349.55 -11 346.05 -11.57 343.55 -9.78 C 341.55 -8.15 343.55 -6.52 346.55 -5.7 C 350.05 -4.89 352.55 -4.07 352.05 -2.04 C 351.55 0 347.05 1 342.05 -0.81" fill="none" stroke="#1e1e1e" stroke-width="2.9" stroke-linecap="round" stroke-linejoin="round"/>
<path transform="translate(760.20 513.00)" d="M 15.95 -16.96 C 14.45 -19.13 11.45 -20 8.45 -19.13 C 3.95 -17.39 1.45 -13.48 1.45 -9.57 C 1.45 -3.91 4.95 -0.43 9.95 -0.43 C 12.45 -0.43 14.95 -1.3 16.95 -3.04 M 31.01 -11 C 26.01 -11 24.01 -8.15 24.01 -5.3 C 24.01 -2.04 26.51 0 30.51 0 C 35.01 0 37.51 -2.44 37.51 -5.7 C 37.51 -8.96 35.01 -11 31.01 -11 M 45.06 -10.59 C 45.06 -6.52 45.06 -3.26 44.56 0 M 45.06 -6.52 C 46.56 -9.78 49.56 -11 52.56 -10.59 C 55.56 -10.19 56.56 -8.15 56.56 -4.89 L 57.06 0 M 70.62 -22 C 70.12 -14 70.12 -7 71.12 0 M 64.12 -15.5 C 68.62 -16 73.12 -16.5 77.62 -17 M 97.67 -8.56 C 95.67 -11 91.17 -11.57 88.17 -9.78 C 84.67 -8.15 84.17 -3.67 86.17 -1.63 C 88.67 0.5 94.67 -0.41 97.17 -4.89 M 97.67 -10.59 C 97.17 -6.52 97.67 -2.44 99.17 0 M 107.23 -10.19 C 107.23 -6.52 107.23 -3.26 107.73 0 M 106.73 -18.46 L 107.73 -17.31 M 115.28 -10.59 C 115.28 -6.52 115.28 -3.26 114.78 0 M 115.28 -6.52 C 116.78 -9.78 119.78 -11 122.78 -10.59 C 125.78 -10.19 126.78 -8.15 126.78 -4.89 L 127.28 0 M 134.84 -4.89 C 138.34 -4.48 142.84 -4.89 145.34 -6.93 C 146.34 -8.96 144.34 -11 140.84 -11 C 136.34 -11 134.34 -8.15 134.34 -5.3 C 134.34 -1.63 137.34 0 140.84 0 C 143.34 0 145.34 -0.41 146.84 -1.63 M 154.39 -10.59 C 154.39 -6.52 154.39 -3.26 154.39 0 M 154.39 -6.93 C 155.89 -9.37 158.89 -11 163.89 -10.59 M 180.95 -9.37 C 178.45 -11 174.95 -11.57 172.45 -9.78 C 170.45 -8.15 172.45 -6.52 175.45 -5.7 C 178.95 -4.89 181.45 -4.07 180.95 -2.04 C 180.45 0 175.95 1 170.95 -0.81" fill="none" stroke="#1e1e1e" stroke-width="2.9" stroke-linecap="round" stroke-linejoin="round"/>
<path transform="translate(1111.30 313.50)" d="M 1.48 -11.7 C 1.48 -7.62 1.17 -3.81 1.17 0 M 1.17 -11.97 C 4.63 -12.24 8.41 -11.43 9.04 -9.52 C 9.67 -7.35 5.89 -6.26 2.74 -5.99 M 4 -6.53 C 5.89 -4.35 7.78 -2.17 9.67 0 M 13.32 -3.08 C 15.52 -2.82 18.36 -3.08 19.93 -4.36 C 20.56 -5.65 19.3 -6.93 17.1 -6.93 C 14.26 -6.93 13 -5.13 13 -3.34 C 13 -1.03 14.89 0 17.1 0 C 18.67 0 19.93 -0.26 20.88 -1.03 M 24.53 -6.67 C 24.84 -2.05 24.84 2.52 25.16 7.25 M 24.84 -4.88 C 26.1 -6.42 27.99 -7.29 29.88 -6.67 C 31.77 -6.16 32.4 -4.36 31.77 -2.57 C 31.14 -0.77 29.25 0 27.36 -0.26 C 26.1 -0.51 25.47 -0.77 24.84 -1.28 M 35.74 -3.08 C 37.94 -2.82 40.78 -3.08 42.35 -4.36 C 42.98 -5.65 41.72 -6.93 39.52 -6.93 C 36.68 -6.93 35.42 -5.13 35.42 -3.34 C 35.42 -1.03 37.31 0 39.52 0 C 41.09 0 42.35 -0.26 43.3 -1.03 M 54.82 -5.39 C 53.56 -6.93 50.72 -7.29 48.83 -6.16 C 46.63 -5.13 46.31 -2.31 47.57 -1.03 C 49.15 0.32 52.93 -0.26 54.5 -3.08 M 54.82 -6.67 C 54.5 -4.11 54.82 -1.54 55.76 0 M 63.19 -13.86 C 62.88 -8.82 62.88 -4.41 63.51 0 M 59.1 -9.77 C 61.93 -10.08 64.77 -10.39 67.6 -10.71 M 77.24 -5.9 C 75.66 -6.93 73.46 -7.29 71.88 -6.16 C 70.62 -5.13 71.88 -4.11 73.77 -3.59 C 75.98 -3.08 77.55 -2.57 77.24 -1.28 C 76.92 0 74.09 0.63 70.94 -0.51" fill="none" stroke="#1e1e1e" stroke-width="1.7" stroke-linecap="round" stroke-linejoin="round"/>
</svg>
</body></html>
